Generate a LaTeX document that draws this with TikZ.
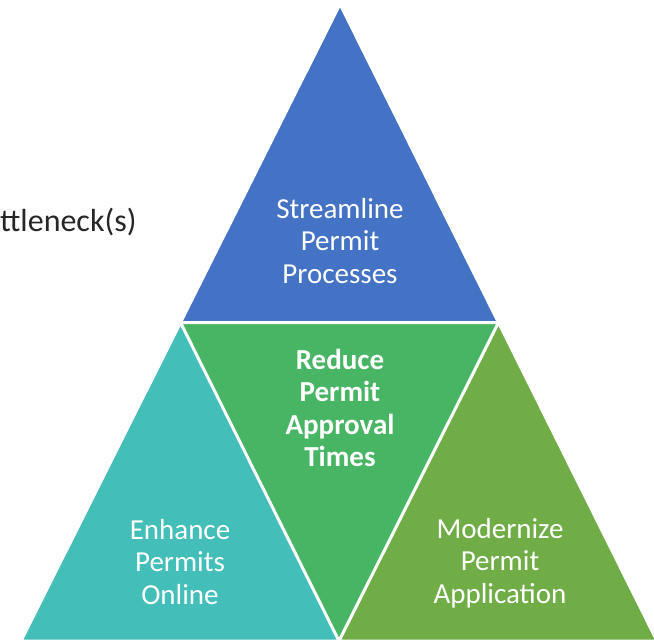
\documentclass[tikz,border=0pt]{standalone}
\usepackage{fontspec}
\setmainfont{Carlito}
\usetikzlibrary{positioning,calc}

\definecolor{topblue}{HTML}{4472C4}
\definecolor{leftteal}{HTML}{43BEB8}
\definecolor{midgreen}{HTML}{48B565}
\definecolor{rightgreen}{HTML}{70AD47}

\begin{document}
\begin{tikzpicture}[x=1pt, y=-1pt,
	tri/.style={draw=white, line width=3pt, line join=miter},
	label/.style={text=white, align=center, font=\fontsize{29}{32.5}\selectfont, inner sep=0pt}]
	\useasboundingbox (0,0) rectangle (654,642);
	\coordinate (apex) at (340,4);
	\coordinate (left) at (21,641);
	\coordinate (right) at (657,641);
	\coordinate (ml) at ($(apex)!0.5!(left)$);
	\coordinate (mr) at ($(apex)!0.5!(right)$);
	\coordinate (mb) at ($(left)!0.5!(right)$);
	\fill [topblue] (apex) -- (ml) -- (mr) -- cycle;
	\fill [leftteal] (ml) -- (left) -- (mb) -- cycle;
	\fill [midgreen] (ml) -- (mr) -- (mb) -- cycle;
	\fill [rightgreen] (mr) -- (mb) -- (right) -- cycle;
	\draw [tri] (apex) -- (left) -- (right) -- cycle (ml) -- (mr) -- (mb) -- cycle;
	\node (streamline) [label] at (340,241) {Streamline\\Permit\\Processes};
	\node (reduce) [label, font=\fontsize{29}{32.5}\selectfont\bfseries] at (340,408) {Reduce\\Permit\\Approval\\Times};
	\node (enhance) [label] at (180,562) {Enhance\\Permits\\Online};
	\node (modernize) [label] at (500,563) {Modernize\\Permit\\Application};
	\node (bottleneck) [label, text=black!85, font=\fontsize{32}{36}\selectfont, anchor=west] at (0,222) {ttleneck(s)};
\end{tikzpicture}
\end{document}
